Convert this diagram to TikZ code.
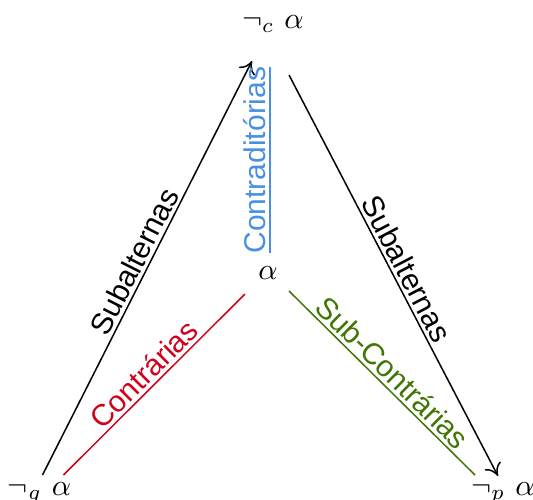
\documentclass[tikz,border=0pt]{standalone}
\usepackage{fontspec}
\newfontfamily\labfont{Liberation Sans}
\usetikzlibrary{calc,arrows.meta}
\definecolor{myred}{HTML}{D0021B}
\definecolor{mygreen}{HTML}{417505}
\definecolor{myblue}{HTML}{4A90E2}
\tikzset{
  vertex/.style={anchor=base,inner sep=0pt},
  conn/.style={line width=0.5pt},
  arr/.style={conn,-{To[length=4pt,width=6pt]}},
  lab/.style={midway,sloped,above,inner sep=1pt,font=\labfont}
}
\begin{document}
\begin{tikzpicture}[x=0.33333pt,y=-0.33333pt]
\useasboundingbox (0,0) rectangle (533,499);
\node[vertex] (c) at (273,28) {$\neg_c\ \alpha$};
\node[vertex] (m) at (268,279) {$\alpha$};
\node[vertex] (g) at (39.5,495) {$\neg_g\ \alpha$};
\node[vertex] (p) at (503,495) {$\neg_p\ \alpha$};
\draw[arr] ($(g.base)+(3,-20)$) -- node[lab]{Subalternas} ($(c.base)+(-21,33)$);
\draw[arr] ($(c.base)+(16,47)$) -- node[lab]{Subalternas} ($(p.base)+(-5,-19)$);
\draw[conn,myred] ($(g.base)+(24,-20)$) -- node[lab]{Contrárias} ($(m.base)+(-23,15)$);
\draw[conn,mygreen] ($(m.base)+(21,12)$) -- node[lab]{Sub-Contrárias} ($(p.base)+(-28,-20)$);
\draw[conn,myblue] ($(m.base)+(2,-26)$) -- node[lab]{Contraditórias} ($(c.base)+(-3,39)$);
\end{tikzpicture}
\end{document}
